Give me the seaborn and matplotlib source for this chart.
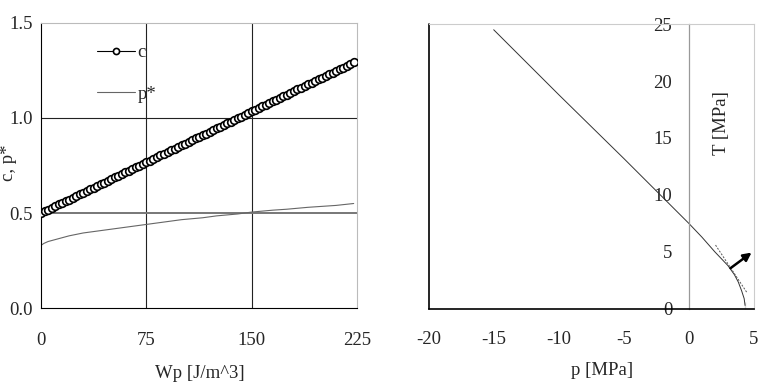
import seaborn as sns
import matplotlib.pyplot as plt
import matplotlib.ticker as mticker

# ---- data: left panel (c and p* against plastic work Wp) ----
wp_c = [0, 2.5, 5, 7.5, 10, 12.5, 15, 17.5, 20, 22.5, 25, 27.5, 30, 32.5, 35, 37.5,
        40, 42.5, 45, 47.5, 50, 52.5, 55, 57.5, 60, 62.5, 65, 67.5, 70, 72.5, 75, 77.5,
        80, 82.5, 85, 87.5, 90, 92.5, 95, 97.5, 100, 102.5, 105, 107.5, 110, 112.5,
        115, 117.5, 120, 122.5, 125, 127.5, 130, 132.5, 135, 137.5, 140, 142.5, 145,
        147.5, 150, 152.5, 155, 157.5, 160, 162.5, 165, 167.5, 170, 172.5, 175, 177.5,
        180, 182.5, 185, 187.5, 190, 192.5, 195, 197.5, 200, 202.5, 205, 207.5, 210,
        212.5, 215, 217.5, 220, 222.5]
c_vals = [0.500, 0.509, 0.518, 0.527, 0.536, 0.545, 0.553, 0.562, 0.571, 0.580, 0.589,
          0.598, 0.607, 0.616, 0.625, 0.634, 0.642, 0.651, 0.660, 0.669, 0.678, 0.687,
          0.696, 0.705, 0.714, 0.723, 0.731, 0.740, 0.749, 0.758, 0.767, 0.776, 0.785,
          0.794, 0.803, 0.812, 0.820, 0.829, 0.838, 0.847, 0.856, 0.865, 0.874, 0.883,
          0.892, 0.901, 0.909, 0.918, 0.927, 0.936, 0.945, 0.954, 0.963, 0.972, 0.981,
          0.990, 0.998, 1.007, 1.016, 1.025, 1.034, 1.043, 1.052, 1.061, 1.070, 1.079,
          1.087, 1.096, 1.105, 1.114, 1.123, 1.132, 1.141, 1.150, 1.159, 1.168, 1.176,
          1.185, 1.194, 1.203, 1.212, 1.221, 1.230, 1.239, 1.248, 1.257, 1.265, 1.274,
          1.283, 1.292]
wp_p = [0, 2, 5, 10, 20, 30, 40, 50, 60, 75, 90, 100, 115, 125, 140, 150, 165, 175,
        190, 200, 210, 222.5]
p_star = [0.33, 0.34, 0.35, 0.36, 0.38, 0.395, 0.405, 0.415, 0.425, 0.44, 0.455, 0.465,
          0.475, 0.485, 0.495, 0.505, 0.515, 0.52, 0.53, 0.535, 0.54, 0.55]
left_xticks = [0, 75, 150, 225]
left_yticks = [0.0, 0.5, 1.0, 1.5]
left_grid_x = [75, 150]
left_grid_y = [0.5, 1.0]

# ---- data: right panel (yield curve in p-T plane) ----
curve_p = [-15, -10, -5, 0, 1, 2, 3, 3.5, 3.8, 4.05, 4.25, 4.32, 4.32]
curve_T = [24.5, 18.8, 13.2, 7.5, 6.3, 5.0, 3.8, 3.0, 2.35, 1.6, 0.9, 0.6, 0.0]
tangent_p = [2.05, 4.45]
tangent_T = [5.6, 1.45]
arrow_tail = (3.2, 3.57)
arrow_head = (4.82, 4.94)
right_xticks = [-20, -15, -10, -5, 0, 5]
right_yticks = [0, 5, 10, 15, 20, 25]

sns.set_theme(style="white")
plt.rcParams['font.family'] = ['Liberation Serif', 'DejaVu Serif']
plt.rcParams['axes.unicode_minus'] = False

fig = plt.figure(figsize=(7.6, 3.88), dpi=100)
fs = 13.5

# =========================== LEFT PANEL ===========================
ax1 = fig.add_axes([0.054, 0.206, 0.416, 0.735])
for gx in left_grid_x:
    ax1.axvline(gx, color='#222222', lw=0.8, zorder=1)
ax1.axhline(left_grid_y[0], color='#777777', lw=1.4, zorder=1)
ax1.axhline(left_grid_y[1], color='#222222', lw=0.8, zorder=1)

sns.lineplot(x=wp_c, y=c_vals, ax=ax1, color='black', lw=0.8, marker='o',
             markersize=5.5, markerfacecolor='white', markeredgecolor='black',
             markeredgewidth=1.2, label='c', zorder=3)
sns.lineplot(x=wp_p, y=p_star, ax=ax1, color='#666666', lw=0.8, label='p*', zorder=2)

ax1.set_xlim(0, 225)
ax1.set_ylim(0, 1.5)
ax1.set_xticks(left_xticks)
ax1.set_yticks(left_yticks)
ax1.yaxis.set_major_formatter(mticker.FormatStrFormatter('%.1f'))
ax1.tick_params(axis='x', length=0, pad=17, labelsize=fs)
ax1.tick_params(axis='y', length=0, pad=6, labelsize=fs)
for s in ['top', 'right']:
    ax1.spines[s].set_color('#bbbbbb')
    ax1.spines[s].set_linewidth(0.8)
for s in ['left', 'bottom']:
    ax1.spines[s].set_color('black')
    ax1.spines[s].set_linewidth(0.8)

ax1.set_xlabel('Wp [J/m^3]', fontsize=fs)
ax1.xaxis.set_label_coords(0.503, -0.2)
ax1.set_ylabel('c, p*', fontsize=fs)
ax1.yaxis.set_label_coords(-0.075, 0.509)

leg = ax1.legend(loc='upper left', bbox_to_anchor=(0.177, 0.925), frameon=False,
                 fontsize=fs, borderpad=0, borderaxespad=0, handlelength=2.0,
                 handletextpad=0.15, labelspacing=1.3, markerscale=0.8)

# =========================== RIGHT PANEL ===========================
ax2 = fig.add_axes([0.564, 0.204, 0.428, 0.734])
sns.lineplot(x=curve_p, y=curve_T, ax=ax2, color='#333333', lw=0.7, sort=False)
sns.lineplot(x=tangent_p, y=tangent_T, ax=ax2, color='#555555', lw=0.7,
             linestyle=(0, (2, 1.5)), sort=False)
ax2.annotate('', xy=arrow_head, xytext=arrow_tail,
             arrowprops=dict(arrowstyle='-|>', color='black', lw=1.8,
                             mutation_scale=12, shrinkA=0, shrinkB=0))

ax2.set_xlim(-20, 5)
ax2.set_ylim(0, 25)
ax2.set_xticks(right_xticks)
ax2.set_yticks(right_yticks)
ax2.xaxis.set_minor_locator(mticker.MultipleLocator(2.5))
ax2.yaxis.set_minor_locator(mticker.MultipleLocator(2.5))

ax2.spines['left'].set_position(('data', 0))
ax2.spines['left'].set_color('#999999')
ax2.spines['left'].set_linewidth(0.9)
ax2.axvline(-20, color='black', lw=1.2, clip_on=False)
for s in ['top', 'right']:
    ax2.spines[s].set_color('#cccccc')
    ax2.spines[s].set_linewidth(0.8)
ax2.spines['bottom'].set_color('black')
ax2.spines['bottom'].set_linewidth(1.2)

ax2.tick_params(axis='x', which='both', direction='in', length=4, color='#444444',
                pad=16, labelsize=fs)
ax2.tick_params(axis='y', which='both', direction='out', length=5, color='#999999',
                pad=7, labelsize=fs)

ax2.set_xlabel('p [MPa]', fontsize=fs)
ax2.xaxis.set_label_coords(0.532, -0.185)
ax2.set_ylabel('T [MPa]', fontsize=fs)
ax2.yaxis.set_label_coords(0.925, 0.653)

fig.savefig('out.png', dpi=100)
